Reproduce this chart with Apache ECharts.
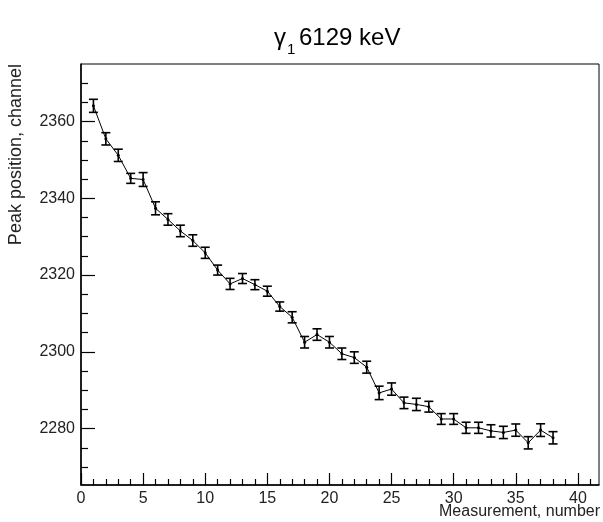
<!DOCTYPE html>
<html><head><meta charset="utf-8">
<script src="https://cdn.jsdelivr.net/npm/echarts@6/dist/echarts.min.js"></script>
<style>html,body{margin:0;padding:0;background:#fff}#c{width:603px;height:522px}</style>
</head><body><div id="c"></div>
<script>
const measurement = [1,2,3,4,5,6,7,8,9,10,11,12,13,14,15,16,17,18,19,20,21,22,23,24,25,26,27,28,29,30,31,32,33,34,35,36,37,38];
const peakPosition = [2364.1,2355.5,2351.2,2345.2,2344.9,2337.4,2334.5,2331.5,2329.0,2325.8,2321.3,2317.7,2319.1,2317.5,2315.8,2311.8,2309.0,2302.5,2304.5,2302.5,2299.5,2298.5,2296.0,2289.3,2290.3,2286.7,2286.3,2285.7,2282.5,2282.5,2280.2,2280.2,2279.4,2279.0,2279.6,2276.3,2279.6,2277.6];
const peakError = [1.7,1.6,1.6,1.3,1.8,1.7,1.5,1.5,1.5,1.45,1.3,1.45,1.3,1.3,1.3,1.2,1.45,1.5,1.5,1.5,1.5,1.5,1.55,1.75,1.6,1.5,1.6,1.4,1.4,1.4,1.45,1.45,1.6,1.6,1.6,1.6,1.65,1.6];
const xMajorTicks = [0,5,10,15,20,25,30,35,40];
const xMinorTicks = [1,2,3,4,6,7,8,9,11,12,13,14,16,17,18,19,21,22,23,24,26,27,28,29,31,32,33,34,36,37,38,39,41];
const yMajorTicks = [2280,2300,2320,2340,2360];
const yMinorTicks = [2270,2275,2285,2290,2295,2305,2310,2315,2325,2330,2335,2345,2350,2355,2365,2370];
const xRange = [0, 41.7];
const yRange = [2265.3, 2375];
const titleMain = '6129 keV';
const titleGreek = 'γ';
const titleSub = '1';
const xTitle = 'Measurement, number';
const yTitle = 'Peak position, channel';

const FONT = 'Liberation Sans, Arial, Helvetica, sans-serif';
const chart = echarts.init(document.getElementById('c'), null, {renderer: 'canvas'});
const points = measurement.map((m, i) => [m, peakPosition[i], peakError[i]]);
const plain = v => String(v);

function baseX(extra) {
  return Object.assign({
    type: 'value', gridIndex: 0, position: 'bottom', min: xRange[0], max: xRange[1],
    splitLine: {show: false}
  }, extra);
}
function baseY(extra) {
  return Object.assign({
    type: 'value', gridIndex: 0, position: 'left', min: yRange[0], max: yRange[1],
    splitLine: {show: false}
  }, extra);
}

const option = {
  animation: false,
  backgroundColor: '#fff',
  grid: {left: 81, right: 4, top: 64, bottom: 37, show: true, borderColor: '#000', borderWidth: 1, containLabel: false},
  xAxis: [
    baseX({
      axisLine: {show: true, lineStyle: {color: '#000', width: 1.5}},
      axisTick: {show: true, inside: true, length: 12, customValues: xMajorTicks, lineStyle: {color: '#000', width: 1.2}},
      axisLabel: {show: true, customValues: xMajorTicks, formatter: plain, margin: 6, color: '#222', fontFamily: FONT, fontSize: 16}
    }),
    baseX({
      axisLine: {show: false},
      axisTick: {show: true, inside: true, length: 6, customValues: xMinorTicks, lineStyle: {color: '#000', width: 1.2}},
      axisLabel: {show: false}
    })
  ],
  yAxis: [
    baseY({
      axisLine: {show: true, lineStyle: {color: '#000', width: 1.5}},
      axisTick: {show: true, inside: true, length: 14, customValues: yMajorTicks, lineStyle: {color: '#000', width: 1.2}},
      axisLabel: {show: true, customValues: yMajorTicks, formatter: plain, margin: 6, color: '#222', fontFamily: FONT, fontSize: 16}
    }),
    baseY({
      axisLine: {show: false},
      axisTick: {show: true, inside: true, length: 7, customValues: yMinorTicks, lineStyle: {color: '#000', width: 1.2}},
      axisLabel: {show: false}
    })
  ],
  graphic: [
    {type: 'text', left: 274, top: 26, style: {text: titleGreek, font: '24px ' + FONT, fill: '#000'}},
    {type: 'text', left: 287, top: 42, style: {text: titleSub, font: '15px ' + FONT, fill: '#000'}},
    {type: 'text', left: 299, top: 26, style: {text: titleMain, font: '24px ' + FONT, fill: '#000'}},
    {type: 'text', right: 3, top: 504, style: {text: xTitle, font: '16px ' + FONT, fill: '#222'}},
    {type: 'text', x: 25, y: 64, rotation: Math.PI / 2,
     style: {text: yTitle, font: '18px ' + FONT, fill: '#222', textAlign: 'right', textVerticalAlign: 'bottom'}}
  ],
  series: [
    {
      type: 'line', xAxisIndex: 0, yAxisIndex: 0,
      data: points.map(p => [p[0], p[1]]),
      symbol: 'circle', symbolSize: 3,
      itemStyle: {color: '#000'},
      lineStyle: {color: '#000', width: 1},
      z: 3
    },
    {
      type: 'custom', xAxisIndex: 0, yAxisIndex: 0,
      data: points,
      encode: {x: 0, y: 1},
      z: 4,
      renderItem: function (params, api) {
        const x = api.value(0), y = api.value(1), e = api.value(2);
        const t = api.coord([x, y + e]);
        const b = api.coord([x, y - e]);
        const hw = 4.5;
        const st = {stroke: '#000', lineWidth: 1.6};
        return {type: 'group', children: [
          {type: 'line', shape: {x1: t[0], y1: t[1], x2: b[0], y2: b[1]}, style: st},
          {type: 'line', shape: {x1: t[0] - hw, y1: t[1], x2: t[0] + hw, y2: t[1]}, style: st},
          {type: 'line', shape: {x1: b[0] - hw, y1: b[1], x2: b[0] + hw, y2: b[1]}, style: st}
        ]};
      }
    }
  ]
};
chart.setOption(option);
</script>
</body></html>
